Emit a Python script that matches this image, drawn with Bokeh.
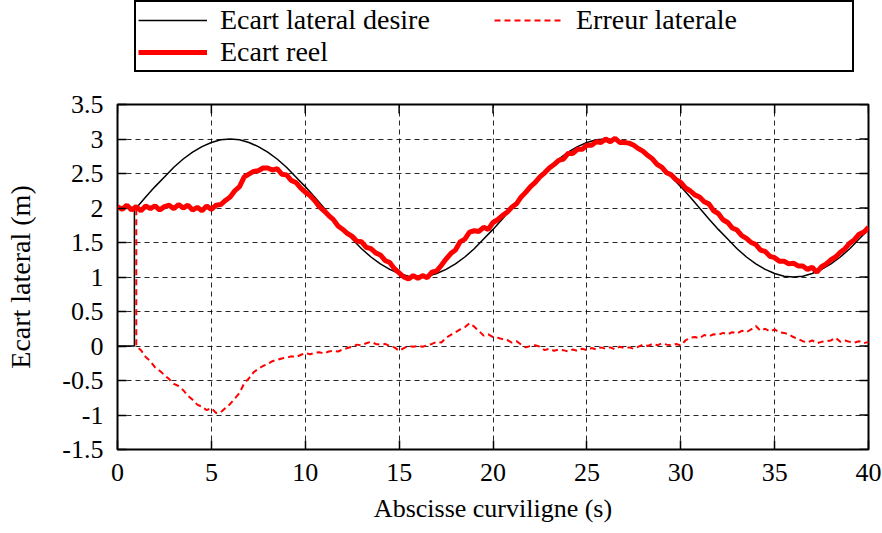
from bokeh.plotting import figure
from bokeh.models import Legend, LegendItem, FixedTicker, Range1d
from bokeh.layouts import column
from bokeh.embed import file_html
from bokeh.resources import INLINE

# ---------------- data ----------------
x_ticks = [0, 5, 10, 15, 20, 25, 30, 35, 40]
x_tick_labels = ["0", "5", "10", "15", "20", "25", "30", "35", "40"]
y_ticks = [-1.5, -1, -0.5, 0, 0.5, 1, 1.5, 2, 2.5, 3, 3.5]
y_tick_labels = ["-1.5", "-1", "-0.5", "0", "0.5", "1", "1.5", "2", "2.5", "3", "3.5"]
x_lim = (0, 40)
y_lim = (-1.5, 3.5)

# desired lateral offset (black)
des_x = [0, 0.9, 0.9, 1.0, 1.5, 2.0, 2.5, 3.0, 3.5, 4.0, 4.5, 5.0, 5.5, 6.0, 6.5, 7.0, 7.5,
         8.0, 8.5, 9.0, 9.5, 10.0, 10.5, 11.0, 11.5, 12.0, 12.5, 13.0, 13.5, 14.0, 14.5,
         15.0, 15.5, 16.0, 16.5, 17.0, 17.5, 18.0, 18.5, 19.0, 19.5, 20.0, 20.5, 21.0,
         21.5, 22.0, 22.5, 23.0, 23.5, 24.0, 24.5, 25.0, 25.5, 26.0, 26.5, 27.0, 27.5,
         28.0, 28.5, 29.0, 29.5, 30.0, 30.5, 31.0, 31.5, 32.0, 32.5, 33.0, 33.5, 34.0,
         34.5, 35.0, 35.5, 36.0, 36.5, 37.0, 37.5, 38.0, 38.5, 39.0, 39.5, 40.0]
des_y = [0, 0, 1.97, 2.00, 2.16, 2.31, 2.45, 2.59, 2.71, 2.81, 2.89, 2.95, 2.99, 3.00, 2.99,
         2.95, 2.89, 2.81, 2.71, 2.59, 2.45, 2.31, 2.16, 2.00, 1.84, 1.69, 1.55, 1.41,
         1.29, 1.19, 1.11, 1.05, 1.01, 1.00, 1.01, 1.05, 1.11, 1.19, 1.29, 1.41, 1.55,
         1.69, 1.84, 2.00, 2.16, 2.31, 2.45, 2.59, 2.71, 2.81, 2.89, 2.95, 2.99, 3.00,
         2.99, 2.95, 2.89, 2.81, 2.71, 2.59, 2.45, 2.31, 2.16, 2.00, 1.84, 1.69, 1.55,
         1.41, 1.29, 1.19, 1.11, 1.05, 1.01, 1.00, 1.01, 1.05, 1.11, 1.19, 1.29, 1.41,
         1.55, 1.69]

# real lateral offset (thick red), sampled every 0.25
real_x = [i * 0.25 for i in range(161)]
real_y = [2.02, 1.98, 2.04, 1.97, 2.02, 1.96, 2.03, 1.99, 2.03, 1.97, 2.02, 2.04, 1.99, 2.05,
          2.00, 2.04, 1.97, 2.01, 1.96, 2.03, 1.98, 2.04, 2.05, 2.11, 2.16, 2.25, 2.31, 2.45,
          2.49, 2.53, 2.54, 2.58, 2.58, 2.55, 2.57, 2.49, 2.48, 2.40, 2.37, 2.29, 2.23, 2.18,
          2.11, 2.02, 1.96, 1.89, 1.83, 1.74, 1.69, 1.63, 1.59, 1.52, 1.51, 1.43, 1.41, 1.35,
          1.32, 1.24, 1.21, 1.12, 1.06, 1.00, 0.97, 1.02, 0.98, 1.02, 0.99, 1.07, 1.09, 1.17,
          1.26, 1.34, 1.39, 1.51, 1.55, 1.65, 1.67, 1.66, 1.72, 1.69, 1.79, 1.83, 1.89, 1.94,
          2.01, 2.06, 2.16, 2.23, 2.31, 2.37, 2.45, 2.51, 2.58, 2.63, 2.69, 2.71, 2.79, 2.79,
          2.85, 2.85, 2.91, 2.91, 2.96, 2.95, 3.00, 2.96, 3.01, 2.95, 2.95, 2.94, 2.91, 2.86,
          2.82, 2.76, 2.71, 2.63, 2.59, 2.51, 2.48, 2.41, 2.37, 2.29, 2.25, 2.19, 2.16, 2.09,
          2.06, 1.96, 1.92, 1.83, 1.79, 1.71, 1.68, 1.60, 1.56, 1.50, 1.47, 1.39, 1.37, 1.30,
          1.28, 1.23, 1.23, 1.19, 1.20, 1.16, 1.16, 1.11, 1.14, 1.07, 1.15, 1.19, 1.25, 1.29,
          1.36, 1.41, 1.49, 1.54, 1.62, 1.65, 1.72]

# lateral error (dashed red)
err_x = [0, 1.0] + [1.0 + i * 0.25 for i in range(157)]
err_y = [2.00, 2.00,
         0.00, -0.06, -0.16, -0.22, -0.31, -0.36, -0.42, -0.48, -0.55, -0.58, -0.64, -0.72,
         -0.78, -0.85, -0.88, -0.93, -0.90, -0.97, -0.96, -0.90, -0.84, -0.76, -0.68, -0.54,
         -0.47, -0.38, -0.33, -0.29, -0.26, -0.22, -0.20, -0.18, -0.17, -0.15, -0.16, -0.13,
         -0.10, -0.12, -0.10, -0.09, -0.11, -0.08, -0.07, -0.08, -0.05, -0.03, -0.01, 0.02,
         0.01, 0.04, 0.06, 0.03, 0.02, 0.03, 0.00, -0.02, -0.07, -0.03, 0.00, -0.01, 0.00,
         -0.01, 0.01, 0.03, 0.06, 0.05, 0.12, 0.16, 0.20, 0.24, 0.27, 0.33, 0.28, 0.22, 0.15,
         0.17, 0.13, 0.12, 0.10, 0.09, 0.05, 0.07, 0.02, -0.02, 0.00, 0.01, -0.01, -0.06,
         -0.04, -0.07, -0.05, -0.06, -0.08, -0.05, -0.07, -0.04, -0.06, -0.03, -0.05, -0.02,
         -0.04, -0.02, -0.05, -0.01, -0.03, -0.02, -0.04, -0.01, 0.02, 0.00, 0.03, 0.01, 0.04,
         0.02, 0.01, 0.03, 0.01, 0.08, 0.12, 0.13, 0.11, 0.16, 0.14, 0.17, 0.16, 0.19, 0.17,
         0.20, 0.18, 0.22, 0.20, 0.24, 0.29, 0.22, 0.25, 0.21, 0.24, 0.20, 0.19, 0.17, 0.13,
         0.10, 0.07, 0.05, 0.08, 0.04, 0.06, 0.07, 0.08, 0.12, 0.06, 0.08, 0.06, 0.05, 0.07,
         0.04, 0.06]

labels = ["Ecart lateral desire", "Erreur laterale", "Ecart reel"]
x_title = "Abscisse curviligne (s)"
y_title = "Ecart lateral (m)"

FONT = "Liberation Serif"
W = 881
LEG_H = 74

# line styles
STY_DES = dict(line_color="black", line_width=1.5)
STY_ERR = dict(line_color="#ff0000", line_width=2, line_dash="6 4")
STY_REAL = dict(line_color="#ff0000", line_width=5)

# ---------------- main plot ----------------
p = figure(frame_width=751, frame_height=345,
           x_range=Range1d(*x_lim), y_range=Range1d(*y_lim),
           output_backend="svg", toolbar_location=None,
           min_border_left=117, min_border_right=13, min_border_top=104 - LEG_H,
           min_border_bottom=83)

p.outline_line_color = "black"
p.outline_line_width = 2
p.background_fill_color = "white"
p.border_fill_color = "white"

for g in (p.xgrid[0], p.ygrid[0]):
    g.grid_line_color = "black"
    g.grid_line_alpha = 0.85
    g.grid_line_width = 1
    g.grid_line_dash = "5 4"
p.xgrid[0].ticker = FixedTicker(ticks=x_ticks)
p.ygrid[0].ticker = FixedTicker(ticks=y_ticks)

p.line(des_x, des_y, **STY_DES)
p.line(err_x, err_y, **STY_ERR)
p.line(real_x, real_y, **STY_REAL)

# mirrored inward ticks on the top and right border
p.ray(x=x_ticks, y=[y_lim[1]] * len(x_ticks), length=9, length_units="screen",
      angle=-90, angle_units="deg", line_color="black", line_width=1.5)
p.ray(x=[x_lim[1]] * len(y_ticks), y=y_ticks, length=9, length_units="screen",
      angle=180, angle_units="deg", line_color="black", line_width=1.5)

for ax, ticks, labs in ((p.xaxis[0], x_ticks, x_tick_labels), (p.yaxis[0], y_ticks, y_tick_labels)):
    ax.ticker = FixedTicker(ticks=ticks)
    ax.major_label_overrides = {t: s for t, s in zip(ticks, labs)}
    ax.axis_line_color = None
    ax.major_tick_in = 9
    ax.major_tick_out = 0
    ax.major_tick_line_color = "black"
    ax.major_tick_line_width = 1.5
    ax.minor_tick_line_color = None
    ax.major_label_text_font = FONT
    ax.major_label_text_font_size = "26px"
    ax.major_label_text_color = "black"
    ax.axis_label_text_font = FONT
    ax.axis_label_text_font_style = "normal"
    ax.axis_label_text_color = "black"

p.xaxis[0].axis_label = x_title
p.yaxis[0].axis_label = y_title
p.xaxis[0].axis_label_text_font_size = "26px"
p.yaxis[0].axis_label_text_font_size = "28px"
p.xaxis[0].major_label_standoff = 14
p.xaxis[0].axis_label_standoff = 10
p.yaxis[0].major_label_standoff = 14
p.yaxis[0].axis_label_standoff = 23

# ---------------- legend strip (frame aligned with the main plot) ----------------
lf = figure(width=W, height=LEG_H, x_range=Range1d(0, 1), y_range=Range1d(0, 1),
            x_axis_type=None, y_axis_type=None, output_backend="svg",
            toolbar_location=None, min_border=0, outline_line_color=None)
lf.background_fill_color = "white"
lf.border_fill_color = "white"
l_des = lf.line(des_x, des_y, visible=False, **STY_DES)
l_err = lf.line(err_x, err_y, visible=False, **STY_ERR)
l_real = lf.line(real_x, real_y, visible=False, **STY_REAL)

legend = Legend(items=[LegendItem(label=labels[0], renderers=[l_des]),
                       LegendItem(label=labels[1], renderers=[l_err]),
                       LegendItem(label=labels[2], renderers=[l_real])],
                orientation="horizontal", ncols=2,
                location=(17, 2),
                padding=2, spacing=0, margin=0,
                glyph_width=69, glyph_height=20, label_standoff=13, label_width=274,
                label_text_font=FONT, label_text_font_size="28px", label_text_color="black",
                border_line_color="black", border_line_width=2, border_line_alpha=1.0,
                background_fill_color="white", background_fill_alpha=1.0,
                inactive_fill_alpha=0.0)
lf.add_layout(legend, "center")

layout = column(lf, p, spacing=0)
open("out.html", "w").write(file_html(layout, INLINE))
